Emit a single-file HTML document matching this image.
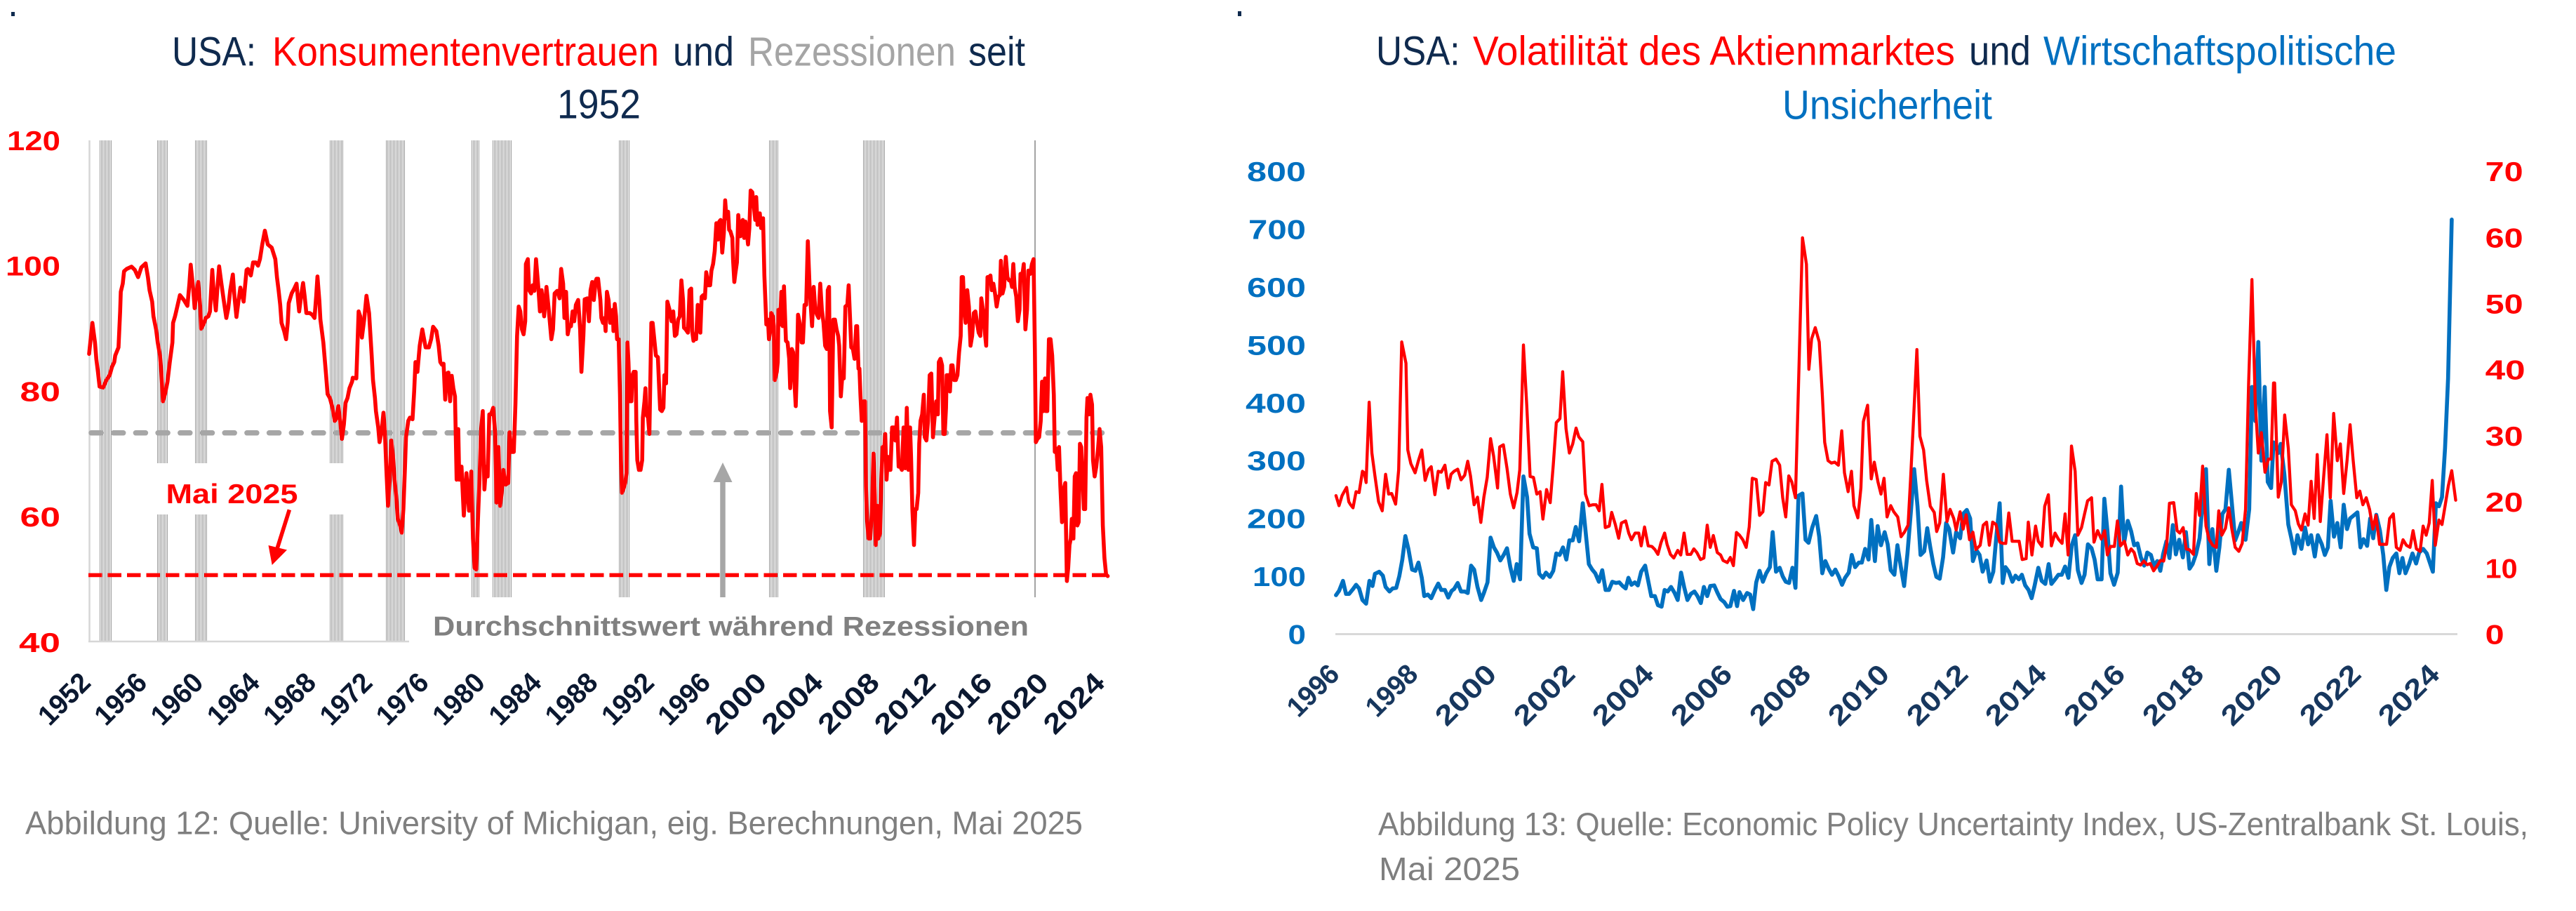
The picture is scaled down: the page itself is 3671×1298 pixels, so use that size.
<!DOCTYPE html>
<html><head><meta charset="utf-8"><style>
html,body{margin:0;padding:0;background:#fff;width:3671px;height:1298px;overflow:hidden}
svg{display:block}
text{font-family:"Liberation Sans",Arial,sans-serif}
</style></head><body>
<svg width="3671" height="1298" viewBox="0 0 3671 1298" xmlns="http://www.w3.org/2000/svg">
<defs>
<pattern id="rb" patternUnits="userSpaceOnUse" x="0" y="0" width="2" height="20"><rect x="0" y="0" width="1" height="20" fill="#9c9c9c" shape-rendering="crispEdges"/></pattern>
</defs>
<rect width="3671" height="1298" fill="#fff"/>
<rect x="16" y="17" width="5" height="6" fill="#0f2a4e"/>
<rect x="1764" y="16" width="5" height="7" fill="#0f2a4e"/>

<!-- ===== LEFT CHART ===== -->
<g font-size="58">
<text x="245" y="93.7" textLength="120" lengthAdjust="spacingAndGlyphs" fill="#0f2a4e">USA:</text>
<text x="388" y="93.7" textLength="551" lengthAdjust="spacingAndGlyphs" fill="#ff0000">Konsumentenvertrauen</text>
<text x="959" y="93.7" textLength="87" lengthAdjust="spacingAndGlyphs" fill="#0f2a4e">und</text>
<text x="1066" y="93.7" textLength="296" lengthAdjust="spacingAndGlyphs" fill="#a5a5a5">Rezessionen</text>
<text x="1380" y="93.7" textLength="81" lengthAdjust="spacingAndGlyphs" fill="#0f2a4e">seit</text>
<text x="794" y="168.7" textLength="119" lengthAdjust="spacingAndGlyphs" fill="#0f2a4e">1952</text>
</g>

<!-- recession bars -->
<g fill="url(#rb)" shape-rendering="crispEdges">
<rect x="142" y="200" width="18" height="714"/>
<rect x="224" y="200" width="15" height="714"/>
<rect x="278" y="200" width="17" height="714"/>
<rect x="470" y="200" width="20" height="714"/>
<rect x="549" y="200" width="28" height="714"/>
<rect x="672" y="200" width="11" height="714"/>
<rect x="702" y="200" width="28" height="714"/>
<rect x="882" y="200" width="15" height="714"/>
<rect x="1096" y="200" width="14" height="714"/>
<rect x="1230" y="200" width="32" height="714"/>
</g>
<rect x="1474" y="200" width="2" height="714" fill="#a3a3a3"/>
<!-- white label boxes -->
<rect x="165" y="660" width="380" height="73" fill="#fff"/>
<rect x="583" y="851" width="1020" height="70" fill="#fff"/>

<!-- axes -->
<line x1="127.5" y1="200" x2="127.5" y2="915" stroke="#d6d6d6" stroke-width="2.5"/>
<line x1="126" y1="914" x2="583" y2="914" stroke="#d6d6d6" stroke-width="2.5"/>

<!-- dashed lines -->
<line x1="130" y1="616.8" x2="1578" y2="616.8" stroke="#a6a6a6" stroke-width="7.5" stroke-dasharray="14 17.7" stroke-linecap="round"/>
<line x1="126" y1="819.4" x2="1582" y2="819.4" stroke="#ff0000" stroke-width="5.6" stroke-dasharray="19.5 8"/>

<!-- data line -->
<g fill="none" stroke="#ff0000" stroke-width="12" stroke-linejoin="round" stroke-linecap="round">
<polyline transform="translate(120,190) scale(0.46555)" points="15,675 25,580 33,640 37,690 42,730 47,775 58,778 68,755 78,740 85,715 92,700 95,680 105,655 110,545 112,485 118,460 122,422 130,415 145,408 155,418 165,440 175,410 188,398 195,440 200,480 208,515 212,560 220,600 225,640 232,680 236,730 241,820 248,795 255,760 262,700 270,640 272,580 278,560 285,530 293,495 305,510 316,528 322,460 326,402 333,470 338,535 345,480 349,455 355,530 358,598 367,580 372,565 380,560 385,545 392,418 396,480 403,542 408,470 413,407 420,460 427,510 435,565 441,535 447,480 455,432 460,500 466,562 472,515 478,472 488,515 497,418 501,415 510,435 517,395 525,395 532,405 538,385 545,340 553,298 562,340 574,350 585,385 590,440 595,480 600,525 604,580 612,605 618,630 623,580 626,520 635,490 643,475 650,460 655,515 658,545 665,490 670,458 675,500 680,550 690,550 698,555 705,565 710,500 714,438 720,515 723,570 732,640 740,735 745,798 752,810 760,840 767,880 773,870 778,835 785,895 789,935 795,890 800,825 806,810 812,780 820,760 822,748 833,750 840,545 845,560 850,625 857,570 864,497 872,550 880,680 884,755 890,810 893,850 900,900 904,945 910,915 916,855 920,905 925,1030 930,1140 935,1060 940,940 945,985 950,1060 955,1110 960,1180 967,1200 972,1222 977,1150 982,1020 985,930 992,880 997,870 1005,875 1010,790 1014,700 1020,730 1027,650 1035,600 1045,655 1055,655 1062,630 1068,592 1078,605 1085,650 1090,700 1095,708 1100,705 1105,815 1110,735 1115,732 1120,820 1125,742 1130,780 1135,805 1140,1060 1145,905 1148,1060 1155,1020 1162,1170 1170,1040 1178,1155 1185,1035 1190,1240 1195,1330 1200,1335 1205,1190 1210,1060 1215,905 1220,850 1225,1090 1230,1020 1235,1050 1240,860 1245,860 1252,840 1258,920 1262,1130 1268,960 1273,1140 1278,1100 1283,1030 1290,1075 1298,1070 1302,915 1308,975 1315,975 1320,830 1325,620 1330,530 1335,545 1340,600 1345,615 1350,575 1352,400 1358,385 1362,480 1368,490 1373,465 1378,482 1383,385 1390,470 1395,545 1400,480 1408,560 1415,470 1422,540 1430,630 1435,600 1440,490 1448,482 1455,505 1460,415 1466,460 1470,565 1475,485 1480,615 1485,590 1490,590 1495,545 1500,575 1505,525 1512,510 1518,600 1522,730 1528,620 1532,508 1540,505 1545,575 1550,480 1555,455 1560,510 1566,450"/>
<polyline transform="translate(850,190) scale(0.46555)" points="0,445 5,445 12,510 15,565 20,580 25,565 28,605 32,485 37,510 42,580 45,570 50,540 52,605 56,522 60,560 63,630 68,630 72,800 75,1000 78,1100 82,1090 88,1070 92,1040 95,640 98,700 102,820 107,820 110,740 114,730 120,730 122,880 125,1000 130,1030 135,1030 140,1000 142,870 147,820 150,780 152,860 158,870 162,920 168,580 172,580 178,640 182,680 188,685 192,780 195,845 200,850 205,840 208,740 213,765 217,515 225,545 230,575 235,545 240,620 245,615 250,570 255,560 260,450 265,510 268,595 273,600 280,610 285,480 290,475 293,605 297,635 302,615 305,630 310,525 318,610 322,500 327,495 332,505 336,425 342,465 348,465 352,420 357,400 362,360 367,275 372,325 376,270 380,265 385,365 390,305 394,205 398,260 403,240 406,295 410,300 416,320 418,385 422,455 425,430 430,395 434,250 440,315 443,275 448,265 452,320 456,270 460,300 464,340 468,290 472,175 477,180 482,225 486,265 489,195 493,280 497,275 500,245 504,290 510,260 514,435 517,510 520,585 525,570 528,630 532,605 535,550 540,560 543,590 546,755 552,730 555,700 557,540 562,585 566,485 570,590 574,468 580,635 585,640 590,690 593,780 598,660 602,670 606,760 610,835 613,740 617,555 622,580 628,640 632,640 637,525 642,525 647,330 652,460 657,545 660,590 665,470 670,540 675,555 680,565 685,460 690,540 695,580 700,650 705,660 708,480 712,470 715,850 720,900 725,570 730,570 735,600 740,620 743,650 748,805 752,750 757,750 762,530 768,525 772,465 776,560 780,655 785,660 790,690 795,590 798,590 802,720 805,720 808,800 812,880 815,870 818,820 822,820 825,1080 828,1180 833,1240 838,1240 843,1160 848,980 852,1110 855,1260 860,1140 863,1240 868,1225 872,1060 876,960 880,980 884,920 888,1060 892,990 896,1030 900,1030 905,900 910,900 915,940 920,870 925,1020 930,1020 935,1030 940,900 945,1025 950,840 955,1030 960,900 963,990 967,1150 972,1260 976,1150 980,1150 985,1100 988,950 992,880 997,860 1002,800 1005,930 1010,940 1015,880 1020,740 1025,735 1030,930 1035,870 1040,820 1045,860 1048,700 1053,690 1058,710 1062,920 1066,920 1070,840 1072,740 1078,740 1082,790 1086,710 1090,710 1095,755 1100,755 1105,740 1110,670 1115,620 1118,440 1122,440 1126,540 1130,580 1135,480 1140,530 1145,650 1150,620 1155,550 1160,545 1165,580 1170,610 1175,620 1178,505 1183,540 1188,600 1193,650 1197,440 1202,440 1206,435 1210,480 1215,460 1220,490 1225,530 1230,500 1235,495 1238,390 1243,490 1248,470 1253,378 1258,440 1263,450 1268,450 1272,470 1276,400 1280,470 1285,500 1290,575 1295,540 1298,430 1303,440 1308,400 1313,600 1318,540 1322,420 1328,430 1333,400 1338,385 1342,660 1345,945 1350,935 1355,930 1360,880 1364,760 1368,850 1373,750 1376,850 1380,850 1385,630 1390,630 1395,680 1400,800 1403,975 1408,965 1412,1030 1416,960 1420,1080 1425,1190 1430,1090 1435,1070 1440,1370 1444,1330 1448,1260 1452,1240 1455,1180 1460,1240 1464,1050 1468,1040 1472,1200 1476,1190 1480,950 1484,960 1488,1050 1492,1150 1496,1150 1500,870 1503,810 1508,860 1512,800 1517,830 1520,1000 1525,1050 1530,1020 1535,970 1540,905 1545,960 1550,1200 1555,1300 1560,1350 1565,1355"/>
</g>

<!-- annotations -->
<text x="236.5" y="717" font-size="39" font-weight="bold" fill="#ff0000" textLength="188" lengthAdjust="spacingAndGlyphs">Mai 2025</text>
<line x1="412.4" y1="726.3" x2="393" y2="788" stroke="#ff0000" stroke-width="5.6"/>
<polygon points="382.5,777 409,783.5 387.7,805" fill="#ff0000"/>
<line x1="1030" y1="851" x2="1030" y2="684" stroke="#a6a6a6" stroke-width="7.5"/>
<polygon points="1016.5,687 1043.5,687 1030,659" fill="#a6a6a6"/>
<text x="617" y="905.5" font-size="39" font-weight="bold" fill="#808080" textLength="849" lengthAdjust="spacingAndGlyphs">Durchschnittswert während Rezessionen</text>

<!-- left y labels -->
<g font-size="39" font-weight="bold" fill="#ff0000">
<text x="10" y="214" textLength="76" lengthAdjust="spacingAndGlyphs">120</text>
<text x="8" y="392.7" textLength="78" lengthAdjust="spacingAndGlyphs">100</text>
<text x="28.5" y="571.5" textLength="57.5" lengthAdjust="spacingAndGlyphs">80</text>
<text x="28.5" y="750.2" textLength="57.5" lengthAdjust="spacingAndGlyphs">60</text>
<text x="27" y="929" textLength="59" lengthAdjust="spacingAndGlyphs">40</text>
</g>

<!-- left x labels -->
<g font-size="40" font-weight="bold" fill="#0b1830">
<text transform="translate(131.4,975) rotate(-45)" x="-86" y="0" textLength="86" lengthAdjust="spacingAndGlyphs">1952</text>
<text transform="translate(211.7,975) rotate(-45)" x="-86" y="0" textLength="86" lengthAdjust="spacingAndGlyphs">1956</text>
<text transform="translate(292,975) rotate(-45)" x="-86" y="0" textLength="86" lengthAdjust="spacingAndGlyphs">1960</text>
<text transform="translate(372.3,975) rotate(-45)" x="-86" y="0" textLength="86" lengthAdjust="spacingAndGlyphs">1964</text>
<text transform="translate(452.6,975) rotate(-45)" x="-86" y="0" textLength="86" lengthAdjust="spacingAndGlyphs">1968</text>
<text transform="translate(532.9,975) rotate(-45)" x="-86" y="0" textLength="86" lengthAdjust="spacingAndGlyphs">1972</text>
<text transform="translate(613.2,975) rotate(-45)" x="-86" y="0" textLength="86" lengthAdjust="spacingAndGlyphs">1976</text>
<text transform="translate(693.5,975) rotate(-45)" x="-86" y="0" textLength="86" lengthAdjust="spacingAndGlyphs">1980</text>
<text transform="translate(773.8,975) rotate(-45)" x="-86" y="0" textLength="86" lengthAdjust="spacingAndGlyphs">1984</text>
<text transform="translate(854.1,975) rotate(-45)" x="-86" y="0" textLength="86" lengthAdjust="spacingAndGlyphs">1988</text>
<text transform="translate(934.4,975) rotate(-45)" x="-86" y="0" textLength="86" lengthAdjust="spacingAndGlyphs">1992</text>
<text transform="translate(1014.7,975) rotate(-45)" x="-86" y="0" textLength="86" lengthAdjust="spacingAndGlyphs">1996</text>
<text transform="translate(1095,975) rotate(-45)" x="-104" y="0" textLength="104" lengthAdjust="spacingAndGlyphs">2000</text>
<text transform="translate(1175.3,975) rotate(-45)" x="-104" y="0" textLength="104" lengthAdjust="spacingAndGlyphs">2004</text>
<text transform="translate(1255.6,975) rotate(-45)" x="-104" y="0" textLength="104" lengthAdjust="spacingAndGlyphs">2008</text>
<text transform="translate(1335.9,975) rotate(-45)" x="-104" y="0" textLength="104" lengthAdjust="spacingAndGlyphs">2012</text>
<text transform="translate(1416.2,975) rotate(-45)" x="-104" y="0" textLength="104" lengthAdjust="spacingAndGlyphs">2016</text>
<text transform="translate(1496.5,975) rotate(-45)" x="-104" y="0" textLength="104" lengthAdjust="spacingAndGlyphs">2020</text>
<text transform="translate(1576.8,975) rotate(-45)" x="-104" y="0" textLength="104" lengthAdjust="spacingAndGlyphs">2024</text>
</g>

<text x="36" y="1188.6" font-size="46" fill="#7f7f7f" textLength="1507" lengthAdjust="spacingAndGlyphs">Abbildung 12: Quelle: University of Michigan, eig. Berechnungen, Mai 2025</text>

<!-- ===== RIGHT CHART ===== -->
<g font-size="58">
<text x="1961" y="92.7" textLength="119.5" lengthAdjust="spacingAndGlyphs" fill="#0f2a4e">USA:</text>
<text x="2099" y="92.7" textLength="687" lengthAdjust="spacingAndGlyphs" fill="#ff0000">Volatilität des Aktienmarktes</text>
<text x="2806" y="92.7" textLength="88" lengthAdjust="spacingAndGlyphs" fill="#0f2a4e">und</text>
<text x="2912" y="92.7" textLength="503" lengthAdjust="spacingAndGlyphs" fill="#0070c0">Wirtschaftspolitische</text>
<text x="2540" y="169.7" textLength="299" lengthAdjust="spacingAndGlyphs" fill="#0070c0">Unsicherheit</text>
</g>

<line x1="1903" y1="903.5" x2="3502" y2="903.5" stroke="#d9d9d9" stroke-width="3"/>

<!-- blue EPU -->
<g fill="none" stroke="#0070c0" stroke-width="13" stroke-linejoin="round" stroke-linecap="round">
<polyline transform="translate(1890,240) scale(0.43365)" points="32,1402 42,1388 55,1355 65,1398 75,1398 88,1382 98,1368 108,1380 119,1418 131,1430 142,1355 152,1372 160,1332 174,1325 186,1338 195,1375 208,1390 218,1380 230,1378 240,1340 250,1285 260,1208 270,1250 282,1318 293,1322 303,1295 314,1345 322,1405 334,1400 345,1412 357,1385 368,1364 378,1385 390,1385 401,1410 412,1388 420,1382 432,1362 443,1390 455,1390 465,1395 476,1305 486,1318 497,1375 509,1418 518,1395 530,1360 540,1213 551,1245 561,1262 572,1288 583,1270 594,1248 605,1310 616,1355 626,1300 637,1350 648,1012 660,1080 668,1200 680,1245 692,1248 700,1332 712,1345 722,1328 735,1342 746,1322 756,1265 767,1270 778,1245 789,1285 799,1222 810,1222 820,1178 831,1225 843,1100 853,1200 863,1300 874,1318 884,1330 896,1358 907,1320 918,1385 929,1385 940,1358 952,1362 963,1360 974,1372 984,1380 993,1345 1003,1368 1014,1360 1024,1370 1035,1325 1048,1305 1060,1365 1068,1405 1080,1405 1090,1435 1102,1440 1112,1385 1122,1390 1133,1375 1145,1395 1155,1418 1166,1328 1176,1375 1187,1418 1198,1398 1210,1390 1220,1405 1231,1428 1241,1375 1252,1405 1262,1372 1275,1370 1286,1395 1296,1415 1308,1425 1318,1440 1328,1438 1340,1388 1350,1438 1358,1392 1370,1418 1383,1395 1393,1400 1403,1448 1413,1360 1424,1322 1435,1358 1446,1330 1458,1310 1467,1195 1478,1325 1490,1312 1500,1340 1510,1358 1521,1362 1532,1312 1542,1378 1552,1075 1565,1068"/>
<polyline transform="translate(2560,240) scale(0.43365)" points="20,1070 30,1220 40,1230 52,1180 65,1142 75,1210 85,1330 95,1290 106,1315 117,1335 128,1318 139,1340 150,1368 160,1345 172,1328 182,1270 193,1310 205,1295 215,1295 226,1250 237,1285 246,1155 258,1290 267,1175 278,1238 290,1195 300,1235 310,1320 322,1335 332,1238 343,1308 354,1372 365,1265 376,1130 387,988 398,1110 408,1270 420,1258 430,1182 440,1245 450,1300 460,1342 471,1348 482,1278 492,1165 502,1185 515,1262 525,1195 538,1215 548,1135 560,1122 571,1150 580,1290 592,1255 602,1270 612,1325 625,1288 636,1358 647,1325 657,1210 668,1100 678,1362 687,1310 698,1325 710,1358 720,1338 731,1350 741,1335 752,1370 763,1385 773,1412 783,1370 795,1312 806,1355 818,1365 829,1300 838,1365 850,1350 861,1335 872,1335 883,1308 894,1345 905,1238 916,1205 925,1320 937,1362 947,1335 958,1235 970,1248 980,1285 990,1350 1003,1350 1012,1085 1022,1190 1032,1330 1044,1368 1056,1328 1067,1045 1077,1230 1089,1158 1100,1192 1110,1238 1121,1232 1132,1278 1143,1305 1153,1262 1165,1270 1175,1305 1186,1290 1196,1322 1205,1268 1216,1225 1226,1280 1237,1172 1247,1268 1258,1220 1270,1278 1280,1195 1292,1315 1302,1300 1313,1268 1325,1215 1335,1100 1346,988 1357,1300 1367,1185 1380,1322 1390,1245 1400,1135 1410,1120 1421,990 1431,1100 1442,1222 1452,1195 1462,1165 1476,1220 1488,1120 1497,718 1508,830 1518,570 1528,960 1539,718 1549,1030 1560,1050 1568,900"/>
<polyline transform="translate(2990,240) scale(0.43365)" points="580,905 592,935 600,905 612,1005 625,1170 635,1215 645,1265 655,1205 668,1250 680,1180 690,1235 700,1205 712,1275 722,1205 735,1235 745,1270 755,1245 764,1092 775,1210 786,1165 797,1245 807,1105 818,1185 828,1150 840,1140 852,1130 862,1245 872,1218 884,1240 894,1150 904,1215 914,1138 926,1190 937,1270 947,1385 957,1310 968,1280 980,1265 990,1330 1000,1280 1010,1330 1022,1300 1033,1265 1045,1298 1055,1262 1068,1250 1080,1265 1090,1295 1100,1325 1110,1100 1120,1110 1130,1080 1140,920 1150,690 1162,168"/>
</g>

<!-- red VIX -->
<g fill="none" stroke="#ff0000" stroke-width="10" stroke-linejoin="round" stroke-linecap="round">
<polyline transform="translate(1890,240) scale(0.43365)" points="32,1075 42,1108 52,1075 60,1060 67,1048 74,1095 80,1105 88,1115 98,1062 108,1065 119,995 125,1000 131,1032 141,768 150,935 160,1010 172,1095 184,1125 195,1005 205,1070 215,1068 228,1103 238,990 248,570 262,640 268,925 278,970 292,1000 303,960 314,925 325,1025 336,990 345,980 357,1072 368,995 378,998 390,975 401,1050 410,1005 420,995 432,988 443,1023 455,1008 465,962 474,1010 486,1105 497,1080 508,1163 518,1080 529,1015 540,888 550,945 563,1050 570,915 582,908 594,985 605,1070 616,1115 627,1065 636,990 648,580 659,780 670,1012 681,1015 692,1070 703,1062 712,1152 724,1055 736,1098 746,975 756,835 768,822 777,668 788,855 799,935 810,905 821,853 830,882 843,898 852,1070 864,1108 876,1105 887,1105 897,1125 906,1038 917,1180 930,1175 938,1130 950,1170 961,1215 970,1165 984,1158 994,1198 1003,1220 1015,1198 1027,1198 1035,1240 1046,1178 1058,1240 1070,1242 1080,1252 1090,1268 1100,1230 1112,1198 1120,1235 1131,1268 1142,1280 1155,1255 1165,1270 1176,1198 1186,1268 1198,1268 1208,1250 1218,1262 1230,1285 1241,1280 1252,1172 1262,1245 1272,1206 1285,1262 1296,1270 1304,1288 1318,1295 1328,1278 1338,1305 1348,1196 1358,1205 1369,1220 1380,1245 1390,1178 1400,1018 1413,1022 1424,1140 1435,1128 1444,1032 1455,1040 1465,962 1478,955 1490,975 1500,1082 1510,1145 1520,1010 1530,1030 1542,1082 1552,710 1565,228"/>
<polyline transform="translate(2560,240) scale(0.43365)" points="20,228 33,315 41,660 50,560 62,523 75,570 85,740 93,900 104,960 115,968 126,965 138,975 149,862 158,1000 170,1062 181,995 189,1108 202,1148 212,1050 220,832 234,778 246,1020 256,965 268,1030 278,1070 288,1018 298,1145 310,1108 320,1128 333,1145 344,1210 355,1195 367,1172 375,1025 384,845 396,595 406,880 418,925 428,1025 440,1110 453,1130 461,1193 471,1165 483,1005 495,1160 505,1120 517,1150 525,1188 538,1128 548,1185 558,1138 569,1220 580,1195 590,1252 604,1238 614,1172 625,1162 634,1238 645,1162 656,1170 668,1228 680,1232 688,1232 698,1132 709,1225 721,1225 732,1225 742,1285 755,1282 762,1162 774,1270 786,1175 795,1225 807,1242 816,1110 828,1072 838,1240 850,1198 861,1218 873,1232 883,1135 893,1270 904,912 916,995 925,1205 937,1180 947,1135 957,1092 970,1082 978,1228 990,1190 1002,1218 1013,1190 1022,1270 1032,1242 1045,1242 1055,1158 1065,1240 1078,1225 1089,1270 1100,1250 1110,1262 1120,1298 1131,1303 1142,1290 1153,1302 1163,1298 1174,1322 1186,1305 1196,1288 1207,1290 1217,1235 1226,1100 1240,1098 1251,1190 1260,1198 1271,1180 1281,1250 1292,1253 1305,1268 1314,1068 1325,1140 1335,978 1346,1175 1356,1218 1368,1238 1380,1245 1388,1125 1398,1205 1410,1182 1421,1115 1431,1185 1442,1245 1454,1258 1465,1232 1476,1120 1486,710 1497,365 1508,772 1518,935 1528,868 1540,998 1551,955 1560,955 1568,705"/>
<polyline transform="translate(2990,240) scale(0.43365)" points="580,705 592,1080 602,1030 613,810 625,920 635,1105 648,1125 658,1168 668,1188 680,1135 690,1172 700,1028 710,1150 720,940 730,1160 741,1015 752,875 763,1082 774,805 786,960 796,905 807,1068 818,960 828,842 838,958 850,1082 860,1060 870,1105 881,1082 892,1120 903,1185 913,1140 925,1235 937,1235 948,1235 958,1150 970,1135 980,1245 992,1255 1002,1220 1013,1238 1025,1245 1035,1190 1046,1250 1058,1258 1068,1175 1078,1205 1088,1165 1098,1025 1108,1238 1120,1155 1130,1170 1140,1110 1151,1042 1162,993 1175,1090"/>
</g>

<!-- right chart left axis labels (blue) -->
<g font-size="39" font-weight="bold" fill="#0070c0">
<text x="1777" y="258" textLength="84" lengthAdjust="spacingAndGlyphs">800</text>
<text x="1779" y="340.5" textLength="82" lengthAdjust="spacingAndGlyphs">700</text>
<text x="1777" y="422.9" textLength="84" lengthAdjust="spacingAndGlyphs">600</text>
<text x="1777" y="505.3" textLength="84" lengthAdjust="spacingAndGlyphs">500</text>
<text x="1775" y="587.8" textLength="86" lengthAdjust="spacingAndGlyphs">400</text>
<text x="1777" y="670.2" textLength="84" lengthAdjust="spacingAndGlyphs">300</text>
<text x="1777" y="752.6" textLength="84" lengthAdjust="spacingAndGlyphs">200</text>
<text x="1785" y="835.1" textLength="76" lengthAdjust="spacingAndGlyphs">100</text>
<text x="1835.5" y="917.5" textLength="25.5" lengthAdjust="spacingAndGlyphs">0</text>
</g>
<!-- right axis labels (red) -->
<g font-size="39" font-weight="bold" fill="#ff0000">
<text x="3541.6" y="258" textLength="54" lengthAdjust="spacingAndGlyphs">70</text>
<text x="3541.6" y="352.3" textLength="54" lengthAdjust="spacingAndGlyphs">60</text>
<text x="3541.6" y="446.5" textLength="54" lengthAdjust="spacingAndGlyphs">50</text>
<text x="3541.6" y="540.7" textLength="57" lengthAdjust="spacingAndGlyphs">40</text>
<text x="3541.6" y="634.9" textLength="54" lengthAdjust="spacingAndGlyphs">30</text>
<text x="3541.6" y="729.1" textLength="54" lengthAdjust="spacingAndGlyphs">20</text>
<text x="3541.6" y="823.3" textLength="46" lengthAdjust="spacingAndGlyphs">10</text>
<text x="3541.6" y="917.5" textLength="27" lengthAdjust="spacingAndGlyphs">0</text>
</g>

<!-- right x labels -->
<g font-size="40" font-weight="bold" fill="#17375e">
<text transform="translate(1911,963) rotate(-45)" x="-86" y="0" textLength="86" lengthAdjust="spacingAndGlyphs">1996</text>
<text transform="translate(2023,963) rotate(-45)" x="-86" y="0" textLength="86" lengthAdjust="spacingAndGlyphs">1998</text>
<text transform="translate(2135,963) rotate(-45)" x="-104" y="0" textLength="104" lengthAdjust="spacingAndGlyphs">2000</text>
<text transform="translate(2247,963) rotate(-45)" x="-104" y="0" textLength="104" lengthAdjust="spacingAndGlyphs">2002</text>
<text transform="translate(2359,963) rotate(-45)" x="-104" y="0" textLength="104" lengthAdjust="spacingAndGlyphs">2004</text>
<text transform="translate(2471,963) rotate(-45)" x="-104" y="0" textLength="104" lengthAdjust="spacingAndGlyphs">2006</text>
<text transform="translate(2583,963) rotate(-45)" x="-104" y="0" textLength="104" lengthAdjust="spacingAndGlyphs">2008</text>
<text transform="translate(2695,963) rotate(-45)" x="-104" y="0" textLength="104" lengthAdjust="spacingAndGlyphs">2010</text>
<text transform="translate(2807,963) rotate(-45)" x="-104" y="0" textLength="104" lengthAdjust="spacingAndGlyphs">2012</text>
<text transform="translate(2919,963) rotate(-45)" x="-104" y="0" textLength="104" lengthAdjust="spacingAndGlyphs">2014</text>
<text transform="translate(3031,963) rotate(-45)" x="-104" y="0" textLength="104" lengthAdjust="spacingAndGlyphs">2016</text>
<text transform="translate(3143,963) rotate(-45)" x="-104" y="0" textLength="104" lengthAdjust="spacingAndGlyphs">2018</text>
<text transform="translate(3255,963) rotate(-45)" x="-104" y="0" textLength="104" lengthAdjust="spacingAndGlyphs">2020</text>
<text transform="translate(3367,963) rotate(-45)" x="-104" y="0" textLength="104" lengthAdjust="spacingAndGlyphs">2022</text>
<text transform="translate(3479,963) rotate(-45)" x="-104" y="0" textLength="104" lengthAdjust="spacingAndGlyphs">2024</text>
</g>

<g font-size="46" fill="#7f7f7f">
<text x="1964" y="1190" textLength="1639" lengthAdjust="spacingAndGlyphs">Abbildung 13: Quelle: Economic Policy Uncertainty Index, US-Zentralbank St. Louis,</text>
<text x="1965" y="1254" textLength="201" lengthAdjust="spacingAndGlyphs">Mai 2025</text>
</g>
</svg>
</body></html>
